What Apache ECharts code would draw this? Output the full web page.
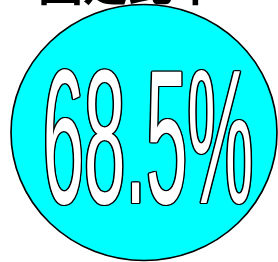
<!DOCTYPE html>
<html>
<head>
<meta charset="utf-8">
<script src="https://cdn.jsdelivr.net/npm/echarts@6/dist/echarts.min.js"></script>
<style>html,body{margin:0;padding:0;background:#fff;}#c{width:278px;height:262px;}</style>
</head>
<body>
<div id="c"></div>
<script>
var titleText = '固定比率';
var categories = ['固定比率'];
var values = [68.5];
var valueLabels = ['68.5%'];

var chart = echarts.init(document.getElementById('c'), null, {renderer: 'canvas'});

// outlined, condensed big label
var cx = 148, cy = 150, sx = 0.743, sy = 1.92, d = 1.4;
var offs = [[-d,0],[d,0],[0,-d],[0,d],[-d*0.7,-d*0.7],[d*0.7,-d*0.7],[-d*0.7,d*0.7],[d*0.7,d*0.7]];
var texts = [];
offs.forEach(function(o){
  texts.push({type:'text', x: cx + o[0], y: cy + o[1], scaleX: sx, scaleY: sy, z: 10,
    style:{text: valueLabels[0], fontFamily:'Liberation Sans', fontSize:100, fill:'#000', align:'center', verticalAlign:'middle'}});
});
texts.push({type:'text', x: cx, y: cy, scaleX: sx, scaleY: sy, z: 11,
  style:{text: valueLabels[0], fontFamily:'Liberation Sans', fontSize:100, fill:'#fff', align:'center', verticalAlign:'middle'}});

chart.setOption({
  animation:false,
  title:{text: titleText, left: 33, top: -44, textStyle:{fontFamily:'Noto Sans CJK JP', fontWeight:'bold', fontSize:45, color:'#000'}},
  grid:{left:10, width:270, top:3, height:260},
  xAxis:{type:'category', data: categories, show:false},
  yAxis:{type:'value', min:0, max: values[0]*2, show:false},
  series:[{type:'scatter', data: values.map(function(v,i){return [categories[i], v];}), symbol:'circle', symbolSize:[266,256],
    itemStyle:{color:'#00FFFF', borderColor:'#000', borderWidth:1.6, opacity:1}, silent:true}],
  graphic: texts
});
</script>
</body>
</html>
